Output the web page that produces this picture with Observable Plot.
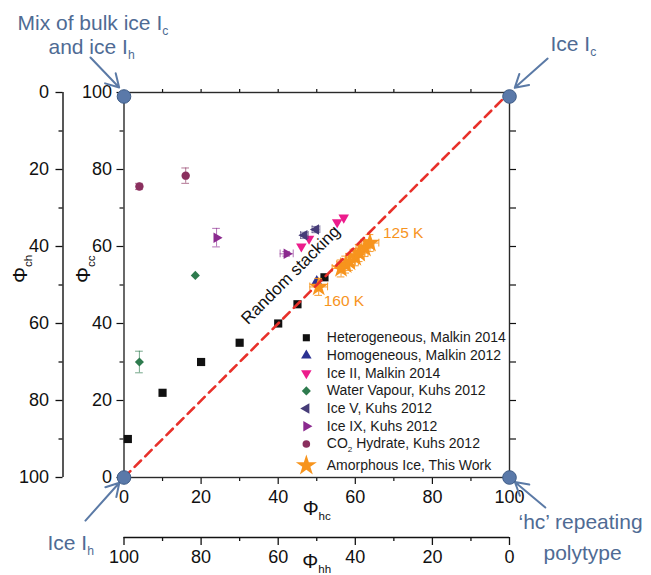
<!DOCTYPE html>
<html><head><meta charset="utf-8">
<script src="https://cdn.jsdelivr.net/npm/d3@7"></script>
<script src="https://cdn.jsdelivr.net/npm/@observablehq/plot@0.6"></script>
<style>body{margin:0;background:#fff} svg{display:block}</style>
</head><body><div id="chart"></div>
<script>
// ---- data (x = Φhc, y = Φcc; ex/ey = error half-widths) ----
const heterogeneous = [{x:1,y:10},{x:10,y:22},{x:20,y:30},{x:30,y:35},{x:40,y:40},{x:45,y:45},{x:52,y:52}];
const homogeneous = [{x:50,y:51}];
const iceII = [{x:46,y:60},{x:48,y:62},{x:55.3,y:66.3},{x:57,y:67.5}];
const waterVapour = [{x:4,y:30,ey:2.8},{x:18.5,y:52.5}];
const iceV = [{x:46.8,y:62.9,ex:1,ey:0.8},{x:49.8,y:64.4,ex:1,ey:0.8}];
const iceIX = [{x:24,y:62.3,ey:2.4},{x:42.2,y:58.1,ex:1.7,ey:0.6}];
const co2Hydrate = [{x:4,y:75.6,ey:0.8},{x:16,y:78.4,ey:2}];
const amorphous = [
  {x:50.5,y:49.5,ex:2.3,ey:2.2},{x:56.3,y:54.3,ex:2.3,ey:2.2},{x:57.5,y:55.3,ex:2.3,ey:2.2},
  {x:58.5,y:56,ex:2.3,ey:2.2},{x:60,y:57.2,ex:2.3,ey:2.2},{x:61,y:58.3,ex:2.3,ey:2.2},
  {x:62.5,y:59.6,ex:2.3,ey:2.2},{x:63.8,y:60.9,ex:2.3,ey:2.2}];
const tempLabels = [
  {point: amorphous[amorphous.length-1], text:"125 K"},
  {point: amorphous[0], text:"160 K"}];

const series = [
  {name:"Heterogeneous, Malkin 2014", data:heterogeneous, symbol:"square", rotate:0, color:"#111111", r:4.6, lr:4.0},
  {name:"Homogeneous, Malkin 2012", data:homogeneous, symbol:"triangle", rotate:0, color:"#2b3192", r:3.9, lr:3.9},
  {name:"Ice II, Malkin 2014", data:iceII, symbol:"triangle", rotate:180, color:"#ec1c8c", r:3.9, lr:3.9},
  {name:"Water Vapour, Kuhs 2012", data:waterVapour, symbol:"diamond2", rotate:0, color:"#2e7b4e", r:4.1, lr:4.1},
  {name:"Ice V, Kuhs 2012", data:iceV, symbol:"triangle", rotate:-90, color:"#463c78", r:3.9, lr:3.9},
  {name:"Ice IX, Kuhs 2012", data:iceIX, symbol:"triangle", rotate:90, color:"#8b2a8f", r:3.9, lr:3.9},
  {name:"CO_2 Hydrate, Kuhs 2012", data:co2Hydrate, symbol:"circle", rotate:0, color:"#8a2f5e", r:4.2, lr:3.8},
  {name:"Amorphous Ice, This Work", data:amorphous, symbol:"star", rotate:0, color:"#f7941d", r:6.2, lr:6.6}
];

const diagonal = [0, 100];
const majorTicks = [0,20,40,60,80,100];
const minorTicks = [10,30,50,70,90];
const tenTicks = [10,20,30,40,50,60,70,80,90];

const corners = [
  {x:0, y:100, top:true}, {x:100, y:100, top:true}, {x:0, y:0}, {x:100, y:0}];
const cornerTexts = [
  {x:0, y:100, text:"Mix of bulk ice I_c", dx:-106.5, dy:-69},
  {x:0, y:100, text:"and ice I_h", dx:-75.5, dy:-45},
  {x:100, y:100, text:"Ice I_c", dx:41, dy:-48},
  {x:0, y:0, text:"Ice I_h", dx:-76.5, dy:66},
  {x:100, y:0, text:"\u2018hc\u2019 repeating", dx:9, dy:45},
  {x:100, y:0, text:"polytype", dx:34, dy:76}];
const cornerArrows = [
  {x1:-8.7, y1:109.1, x2:0, y2:100},
  {x1:109.9, y1:108.8, x2:100, y2:100},
  {x1:-10, y1:-11.2, x2:0, y2:0},
  {x1:109.3, y1:-7.8, x2:100, y2:0}];

const stackingLabel = {x:43.2, y:52.6, text:"Random stacking"};
const legendLayout = {symX:47.3, textX:52.6, top:36.3, step:4.6};

// ---- marks ----
const ink = "#111";
const annot = "#4f6b94";
const marks = [];

// axes
marks.push(Plot.axisY({anchor:"left", ticks:majorTicks, tickSize:7, tickPadding:5, fontSize:18, label:null, stroke:ink, strokeWidth:1.2, fill:ink}));
marks.push(Plot.axisY({anchor:"left", ticks:minorTicks, tickSize:4, tickFormat:()=>"", label:null, stroke:ink, strokeWidth:1.2}));
marks.push(Plot.axisY({anchor:"left", ticks:majorTicks, tickSize:7, tickPadding:7, fontSize:18, label:null, dx:-61, tickFormat:d=>String(100-d), stroke:ink, strokeWidth:1.3, fill:ink}));
marks.push(Plot.axisY({anchor:"left", ticks:minorTicks, tickSize:4, tickFormat:()=>"", label:null, dx:-61, stroke:ink, strokeWidth:1.3}));
marks.push(Plot.axisY({anchor:"right", ticks:tenTicks, tickSize:6, tickFormat:()=>"", label:null, stroke:ink, strokeWidth:1.2}));
marks.push(Plot.axisX({anchor:"bottom", ticks:majorTicks, tickSize:7, tickPadding:6, fontSize:18, label:null, stroke:ink, strokeWidth:1.2, fill:ink}));
marks.push(Plot.axisX({anchor:"bottom", ticks:minorTicks, tickSize:4, tickFormat:()=>"", label:null, stroke:ink, strokeWidth:1.2}));
marks.push(Plot.axisX({anchor:"bottom", ticks:majorTicks, tickSize:8, tickPadding:5, fontSize:18, label:null, dy:60, tickFormat:d=>String(100-d), stroke:ink, strokeWidth:1.3, fill:ink}));
marks.push(Plot.axisX({anchor:"bottom", ticks:minorTicks, tickSize:4, tickFormat:()=>"", label:null, dy:60, stroke:ink, strokeWidth:1.3}));
marks.push(Plot.axisX({anchor:"top", ticks:tenTicks, tickSize:4, tickFormat:()=>"", label:null, stroke:ink, strokeWidth:1.2}));
marks.push(Plot.ruleX([0], {dx:-61, stroke:ink, strokeWidth:1.4}));
marks.push(Plot.ruleY([0], {dy:60, stroke:ink, strokeWidth:1.4}));
marks.push(Plot.frame({stroke:"#2a2a2a", strokeWidth:1.4}));

// axis titles
marks.push(Plot.text(["\u03A6_hc"], {frameAnchor:"bottom", dy:31, fontSize:20, fill:ink, lineAnchor:"middle"}));
marks.push(Plot.text(["\u03A6_hh"], {frameAnchor:"bottom", dy:84, fontSize:20, fill:ink, lineAnchor:"middle"}));
marks.push(Plot.text(["\u03A6_cc"], {frameAnchor:"left", dx:-40.5, dy:-2, rotate:-90, fontSize:20, fill:ink, lineAnchor:"middle"}));
marks.push(Plot.text(["\u03A6_ch"], {frameAnchor:"left", dx:-103.5, dy:-2, rotate:-90, fontSize:20, fill:ink, lineAnchor:"middle"}));

// error bars and points
for (const s of series) {
  const ey = s.data.filter(d => d.ey);
  const ex = s.data.filter(d => d.ex);
  const barColor = s.color;
  const op = s.symbol === "star" ? 0.85 : 0.6;
  marks.push(Plot.ruleX(ey, {x:"x", y1:d=>d.y-d.ey, y2:d=>d.y+d.ey, stroke:barColor, strokeOpacity:op, strokeWidth:1.1}));
  marks.push(Plot.ruleY(ey.flatMap(d=>[{x:d.x,y:d.y-d.ey},{x:d.x,y:d.y+d.ey}]), {y:"y", x1:d=>d.x-1, x2:d=>d.x+1, stroke:barColor, strokeOpacity:op, strokeWidth:1.1}));
  marks.push(Plot.ruleY(ex, {y:"y", x1:d=>d.x-d.ex, x2:d=>d.x+d.ex, stroke:barColor, strokeOpacity:op, strokeWidth:1.1}));
  marks.push(Plot.ruleX(ex.flatMap(d=>[{x:d.x-d.ex,y:d.y},{x:d.x+d.ex,y:d.y}]), {x:"x", y1:d=>d.y-1, y2:d=>d.y+1, stroke:barColor, strokeOpacity:op, strokeWidth:1.1}));
  marks.push(Plot.dot(s.data, {x:"x", y:"y", symbol:s.symbol, rotate:s.rotate, fill:s.color, r:s.r, stroke:"none"}));
}

// random stacking diagonal
marks.push(Plot.line(diagonal.map(v=>({x:v,y:v})), {x:"x", y:"y", stroke:"#e8302a", strokeWidth:2.6, strokeDasharray:"9,6"}));
marks.push(Plot.text([stackingLabel], {x:"x", y:"y", text:"text", rotate:-45, fontSize:17, fill:ink, lineAnchor:"middle"}));

// temperature labels
marks.push(Plot.text(tempLabels.slice(0,1), {x:d=>d.point.x, y:d=>d.point.y, text:"text", dx:13, dy:-10, fill:"#f7941d", fontSize:15.5, textAnchor:"start", lineAnchor:"middle"}));
marks.push(Plot.text(tempLabels.slice(1), {x:d=>d.point.x, y:d=>d.point.y, text:"text", dx:5, dy:14, fill:"#f7941d", fontSize:15.5, textAnchor:"start", lineAnchor:"middle"}));

// legend
series.forEach((s, i) => {
  const ly = legendLayout.top - legendLayout.step * i - (i === series.length - 1 ? 1 : 0);
  marks.push(Plot.dot([s], {x:()=>legendLayout.symX, y:()=>ly, symbol:s.symbol, rotate:s.rotate, fill:s.color, r:s.lr}));
  marks.push(Plot.text([s], {x:()=>legendLayout.textX, y:()=>ly, text:"name", textAnchor:"start", lineAnchor:"middle", fontSize:14, fill:"#1a1a1a"}));
});

// corner markers and annotations
marks.push(Plot.arrow(cornerArrows, {x1:"x1", y1:"y1", x2:"x2", y2:"y2", stroke:"#5b7aa6", strokeWidth:2, headLength:11, insetEnd:7}));
marks.push(Plot.dot(corners.filter(c=>c.top), {x:"x", y:"y", dy:4, r:6.8, fill:"#5a79a9", stroke:"#3d5b86", strokeWidth:1}));
marks.push(Plot.dot(corners.filter(c=>!c.top), {x:"x", y:"y", r:6.8, fill:"#5a79a9", stroke:"#3d5b86", strokeWidth:1}));
cornerTexts.forEach(t => {
  marks.push(Plot.text([t], {x:"x", y:"y", text:"text", dx:t.dx, dy:t.dy, textAnchor:"start", lineAnchor:"middle", fontSize:21, fill:annot}));
});

const chart = Plot.plot({
  width:651, height:575,
  marginLeft:123.5, marginRight:142, marginTop:92, marginBottom:98,
  x:{domain:[0,100], axis:null},
  y:{domain:[0,100], axis:null},
  style:{fontFamily:"'Liberation Sans', Arial, Helvetica, sans-serif", background:"#fff", color:ink},
  marks
});

document.getElementById("chart").appendChild(chart);

// subscripts: text written as "Base_sub"
(function applySubs(root){
  const NS = "http://www.w3.org/2000/svg";
  const size = 0.58, shift = 0.4;
  const els = [...root.querySelectorAll("text, tspan")].filter(el =>
    [...el.childNodes].some(n => n.nodeType === 3 && n.nodeValue.includes("_")));
  for (const el of els) {
    const parts = el.textContent.split(/_(\w+)/);
    while (el.firstChild) el.removeChild(el.firstChild);
    let shifted = false;
    parts.forEach((p, i) => {
      if (i % 2 === 1) {
        const t = document.createElementNS(NS, "tspan");
        t.setAttribute("font-size", (size * 100) + "%");
        t.setAttribute("dy", shift + "em");
        t.textContent = p;
        el.appendChild(t);
        shifted = true;
      } else if (p) {
        const t = document.createElementNS(NS, "tspan");
        if (shifted) t.setAttribute("dy", (-shift * size).toFixed(3) + "em");
        t.textContent = p;
        el.appendChild(t);
        shifted = false;
      }
    });
  }
})(chart);
</script>
</body></html>
